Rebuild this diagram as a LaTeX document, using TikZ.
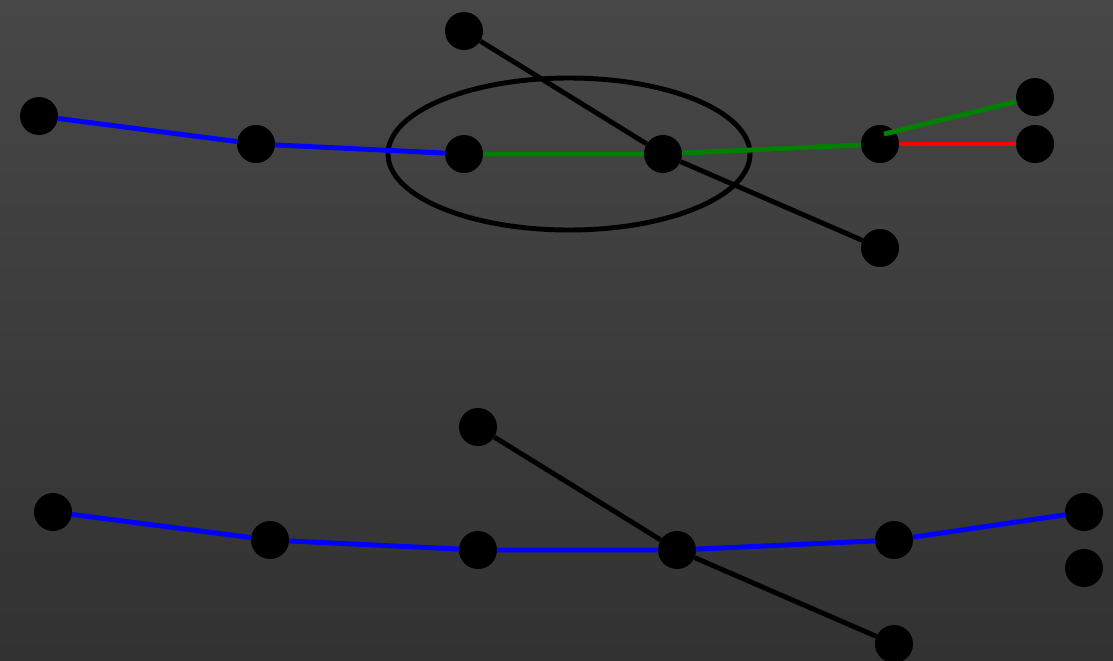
\documentclass[tikz,border=0pt]{standalone}
\usepackage{tikz}
\usetikzlibrary{positioning,calc}

\definecolor{bgtop}{RGB}{71,71,71}
\definecolor{bgbot}{RGB}{50,50,50}
\definecolor{linkgreen}{RGB}{0,128,0}

\begin{document}
\begin{tikzpicture}[x=0.025cm,y=-0.025cm,
        dot/.style={circle,fill=black,inner sep=0pt,minimum size=0.95cm},
        link/.style={line width=3.5pt},
    ]
        \useasboundingbox (0,0) rectangle (1113,660);
        \clip (0,0) rectangle (1113,660);
        \shade[top color=bgtop,bottom color=bgbot] (0,0) rectangle (1113,660);

        % top chain
        \node[dot] (t1) at (39,116) {};
        \node[dot] (t2) at (256,144) {};
        \node[dot] (t3) at (464,154) {};
        \node[dot] (t4) at (663,154) {};
        \node[dot] (t5) at (880,144) {};
        \node[dot] (t6) at (1035,97) {};
        \node[dot] (t7) at (1035,144) {};
        \node[dot] (tu) at (464,31) {};
        \node[dot] (tl) at (880,248) {};

        \draw[link] (569,154) ellipse [x radius=181,y radius=76];

        \draw[link,blue] (t1) -- (t2) -- (t3);
        \draw[link,linkgreen] (t3) -- (t4) -- (t5);
        \draw[link,red] (t5) -- (t7);
        \draw[link] (tu) -- (t4) -- (tl);
        \draw[link,linkgreen] ($(t5.center)+(4,-10)$) -- (t6);

        % bottom chain
        \node[dot] (b1) at (53,512) {};
        \node[dot] (b2) at (270,540) {};
        \node[dot] (b3) at (478,550) {};
        \node[dot] (b4) at (677,550) {};
        \node[dot] (b5) at (894,540) {};
        \node[dot] (b6) at (1084,512) {};
        \node[dot] (b7) at (1084,568) {};
        \node[dot] (bu) at (478,427) {};
        \node[dot] (bl) at (894,644) {};

        \draw[link,blue] (b1) -- (b2) -- (b3) -- (b4) -- (b5) -- (b6);
        \draw[link] (bu) -- (b4) -- (bl);
\end{tikzpicture}
\end{document}
